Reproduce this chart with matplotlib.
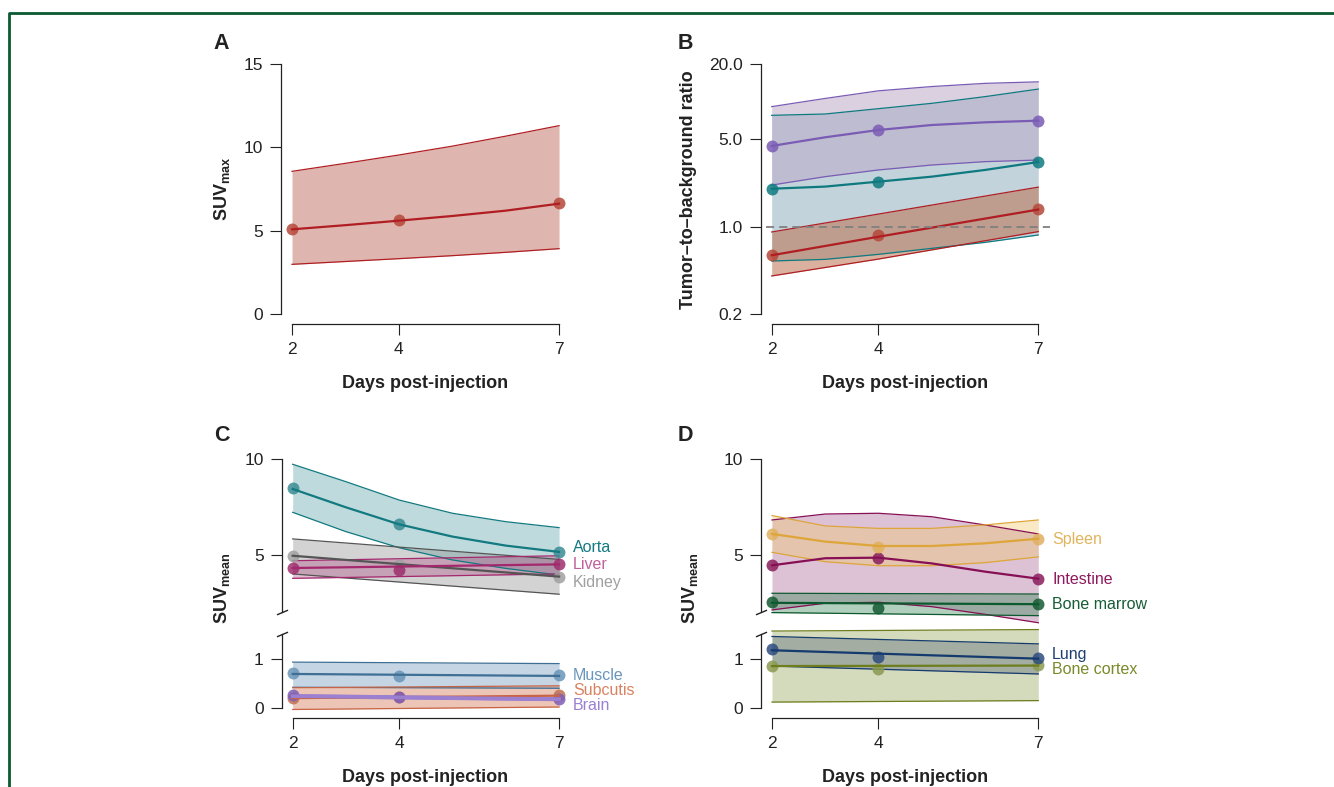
import matplotlib
matplotlib.use('Agg')
import matplotlib.pyplot as plt
from matplotlib.lines import Line2D

plt.rcParams['font.family'] = ['Liberation Sans', 'DejaVu Sans']
plt.rcParams['mathtext.fontset'] = 'custom'
plt.rcParams['mathtext.rm'] = 'Liberation Sans'
plt.rcParams['mathtext.bf'] = 'Liberation Sans:bold'

W, H = 1334, 787

days = [2, 4, 7]
fit_days = [2, 3, 4, 5, 6, 7]
end_days = [2, 7]

# ---- A: tumour SUVmax
a_pts = [5.1, 5.62, 6.68]
a_fit = [5.08, 5.33, 5.6, 5.88, 6.2, 6.62]
a_hi = [8.56, 9.04, 9.54, 10.07, 10.67, 11.3]
a_lo = [2.98, 3.15, 3.32, 3.5, 3.7, 3.92]

# ---- B: tumour-to-background ratios (three backgrounds)
b1_pts = [4.42, 5.93, 7.04]
b1_fit = [4.42, 5.18, 5.93, 6.5, 6.83, 7.04]
b1_hi = [9.12, 10.6, 12.2, 13.2, 14.0, 14.4]
b1_lo = [2.15, 2.51, 2.84, 3.11, 3.31, 3.41]

b2_pts = [2.01, 2.29, 3.29]
b2_fit = [2.01, 2.09, 2.29, 2.51, 2.84, 3.29]
b2_hi = [7.77, 7.96, 8.78, 9.69, 10.96, 12.6]
b2_lo = [0.531, 0.547, 0.60, 0.67, 0.748, 0.857]

b3_pts = [0.593, 0.863, 1.375]
b3_fit = [0.59, 0.83, 1.37]
b3_hi = [0.906, 1.26, 2.07]
b3_lo = [0.403, 0.55, 0.912]

# ---- C: SUVmean, blood pool / organs
aorta_pts = [8.49, 6.60, 5.17]
aorta_fit = [8.45, 7.49, 6.60, 5.96, 5.49, 5.16]
aorta_hi = [9.74, 8.83, 7.87, 7.18, 6.74, 6.43]
aorta_lo = [7.23, 6.22, 5.38, 4.74, 4.30, 3.95]

liver_pts = [4.32, 4.22, 4.51]
liver_fit = [4.32, 4.51]
liver_hi = [4.70, 4.96]
liver_lo = [3.78, 4.01]

kidney_pts = [4.96, 4.48, 3.85]
kidney_fit = [4.96, 3.87]
kidney_hi = [5.84, 4.77]
kidney_lo = [4.01, 2.95]

muscle_pts = [0.70, 0.64, 0.66]
muscle_fit = [0.69, 0.65]
muscle_hi = [0.93, 0.90]
muscle_lo = [0.42, 0.40]

subcutis_pts = [0.20, 0.22, 0.26]
subcutis_fit = [0.20, 0.25]
subcutis_hi = [0.41, 0.45]
subcutis_lo = [-0.03, 0.02]

brain_pts = [0.26, 0.22, 0.18]
brain_fit = [0.24, 0.18]
brain_hi = [0.27, 0.21]
brain_lo = [0.21, 0.15]

# ---- D: SUVmean, other organs
spleen_pts = [6.11, 5.42, 5.85]
spleen_fit = [6.10, 5.70, 5.47, 5.47, 5.61, 5.85]
spleen_hi = [7.06, 6.52, 6.39, 6.39, 6.57, 6.83]
spleen_lo = [5.14, 4.65, 4.44, 4.44, 4.60, 4.90]

intestine_pts = [4.46, 4.86, 3.76]
intestine_fit = [4.46, 4.83, 4.86, 4.56, 4.13, 3.76]
intestine_hi = [6.83, 7.14, 7.18, 7.00, 6.57, 6.10]
intestine_lo = [2.13, 2.48, 2.53, 2.30, 1.90, 1.46]

marrow_pts = [2.54, 2.25, 2.46]
marrow_fit = [2.50, 2.43]
marrow_hi = [3.00, 2.96]
marrow_lo = [1.99, 1.83]

lung_pts = [1.19, 1.04, 1.02]
lung_fit = [1.17, 1.00]
lung_hi = [1.45, 1.30]
lung_lo = [0.85, 0.69]

cortex_pts = [0.86, 0.80, 0.87]
cortex_fit = [0.85, 0.86]
cortex_hi = [1.56, 1.59]
cortex_lo = [0.12, 0.15]


def px_axes(fig, left, top, right, bottom):
    ax = fig.add_axes([left / W, 1 - bottom / H, (right - left) / W, (bottom - top) / H])
    ax.set_facecolor('none')
    for s in ['top', 'right']:
        ax.spines[s].set_visible(False)
    for s in ['left', 'bottom']:
        ax.spines[s].set_linewidth(0.9)
        ax.spines[s].set_color('#222222')
    ax.tick_params(length=8, width=0.8, labelsize=12.5, colors='#222222', pad=5)
    ax.set_xlim(1.794, 7.25)
    return ax


def style_x(ax):
    ax.spines['bottom'].set_position(('outward', 7.2))
    ax.spines['bottom'].set_bounds(2, 7)
    ax.set_xticks(days)
    ax.set_xticklabels(['2', '4', '7'])


def no_x(ax):
    ax.spines['bottom'].set_visible(False)
    ax.set_xticks([])


def series(ax, xf, fit, lo, hi, pts, line, fill, alpha, ptc, lw=1.6):
    ax.fill_between(xf, lo, hi, color=fill, alpha=alpha, lw=0, zorder=1, clip_on=False)
    ax.plot(xf, hi, color=line, lw=0.9, zorder=2, clip_on=False)
    ax.plot(xf, lo, color=line, lw=0.9, zorder=2, clip_on=False)
    ax.plot(days, pts, 'o', color=ptc, ms=8.6, alpha=0.85, mew=0, zorder=3, clip_on=False)
    ax.plot(xf, fit, color=line, lw=lw, zorder=4, clip_on=False)


def brk(ax, y):
    ax.plot([0], [y], transform=ax.transAxes, marker=[(-1, -0.42), (1, 0.42)],
            ms=8, mew=1, color='#222222', clip_on=False, ls='none')


fig = plt.figure(figsize=(W / 100, H / 100), dpi=100)

# ---------------- A
ax = px_axes(fig, 281, 64, 572.4, 314)
ax.set_ylim(0, 15)
ax.set_yticks([0, 5, 10, 15])
ax.spines['left'].set_bounds(0, 15)
style_x(ax)
series(ax, fit_days, a_fit, a_lo, a_hi, a_pts, '#B01E23', '#B04A38', 0.4, '#B5483A')

# ---------------- B
ax = px_axes(fig, 760.7, 64, 1051.6, 314)
ax.set_yscale('log')
ax.set_ylim(0.2, 20)
ax.set_yticks([0.2, 1, 5, 20])
ax.set_yticklabels(['0.2', '1.0', '5.0', '20.0'])
ax.minorticks_off()
ax.spines['left'].set_bounds(0.2, 20)
style_x(ax)
series(ax, fit_days, b2_fit, b2_lo, b2_hi, b2_pts, '#0E7A80', '#37708A', 0.3, '#0E7A80')
series(ax, fit_days, b1_fit, b1_lo, b1_hi, b1_pts, '#7A5CB4', '#BCAAC8', 0.55, '#7A5CB4')
series(ax, days, b3_fit, b3_lo, b3_hi, b3_pts, '#B01E23', '#BC7150', 0.55, '#B5483A')
ax.hlines(1.0, 1.9, 7.22, colors='#808080', lw=1.3, linestyles=(0, (4.5, 2.8)), zorder=5)


# ---------------- C and D (broken y axis)
def broken_pair(left, right):
    top = px_axes(fig, left, 459.3, right, 612.4)
    top.set_ylim(2, 10)
    top.set_yticks([5, 10])
    top.spines['left'].set_bounds(2, 10)
    no_x(top)
    brk(top, 0)
    bot = px_axes(fig, left, 634, right, 708)
    bot.set_ylim(0, 1.5)
    bot.set_yticks([0, 1])
    bot.spines['left'].set_bounds(0, 1.5)
    style_x(bot)
    brk(bot, 1)
    return top, bot


ct, cb = broken_pair(281.7, 572.4)
series(ct, fit_days, aorta_fit, aorta_lo, aorta_hi, aorta_pts, '#127A80', '#1A7A84', 0.28, '#3B8C93')
series(ct, end_days, kidney_fit, kidney_lo, kidney_hi, kidney_pts, '#555555', '#8C8C8C', 0.38, '#A0A0A0')
series(ct, end_days, liver_fit, liver_lo, liver_hi, liver_pts, '#A3286E', '#B04880', 0.35, '#9E2F6E')
series(cb, end_days, muscle_fit, muscle_lo, muscle_hi, muscle_pts, '#3F6F95', '#5A88B0', 0.35, '#6A95B8')
series(cb, end_days, subcutis_fit, subcutis_lo, subcutis_hi, subcutis_pts, '#C86446', '#D8805E', 0.45, '#C07050')
series(cb, end_days, brain_fit, brain_lo, brain_hi, brain_pts, '#9B7FD0', '#9B7FD0', 0.35, '#7E5DB8', lw=2.6)

for a, y, name, col in [(ct, 5.38, 'Aorta', '#127A80'), (ct, 4.49, 'Liver', '#C0609A'),
                        (ct, 3.55, 'Kidney', '#A0A0A0'), (cb, 0.655, 'Muscle', '#6A95BD'),
                        (cb, 0.35, 'Subcutis', '#D98262'), (cb, 0.047, 'Brain', '#9A80D2')]:
    a.text(7.26, y, name, color=col, fontsize=11.5, va='center', ha='left', clip_on=False)

dt, db = broken_pair(761, 1051.6)
series(dt, fit_days, intestine_fit, intestine_lo, intestine_hi, intestine_pts, '#870F55', '#A05088', 0.35, '#8A1C5C')
series(dt, fit_days, spleen_fit, spleen_lo, spleen_hi, spleen_pts, '#DDA53A', '#F0C870', 0.4, '#E0B060')
series(dt, end_days, marrow_fit, marrow_lo, marrow_hi, marrow_pts, '#0E5A30', '#3A8A5A', 0.4, '#145A32')
series(db, end_days, cortex_fit, cortex_lo, cortex_hi, cortex_pts, '#6E7E1E', '#90A050', 0.38, '#8A9A50')
series(db, end_days, lung_fit, lung_lo, lung_hi, lung_pts, '#153A6E', '#4A5A70', 0.35, '#2C4C7E')

for a, y, name, col in [(dt, 5.82, 'Spleen', '#E2B45E'), (dt, 3.73, 'Intestine', '#8F1A5E'),
                        (dt, 2.42, 'Bone marrow', '#175C36'), (db, 1.09, 'Lung', '#1E3F72'),
                        (db, 0.785, 'Bone cortex', '#7A8A2A')]:
    a.text(7.26, y, name, color=col, fontsize=11.5, va='center', ha='left', clip_on=False)

# ---------------- labels
def ftext(x, y, s, **kw):
    fig.text(x / W, 1 - y / H, s, ha='center', va='center', color='#222222', **kw)


for x, y, s in [(221.7, 43.3, 'A'), (685, 43.3, 'B'), (222, 435, 'C'), (685, 435, 'D')]:
    ftext(x, y, s, fontsize=15.5, fontweight='bold')

for x, y in [(425, 384), (905, 384), (425, 778), (905, 778)]:
    ftext(x, y, 'Days post-injection', fontsize=13, fontweight='bold')

ftext(222.5, 189, r'$\mathbf{SUV}_{\mathbf{max}}$', fontsize=13, rotation=90)
ftext(688, 190, 'Tumor–to–background ratio', fontsize=13, fontweight='bold', rotation=90)
ftext(222.5, 588, r'$\mathbf{SUV}_{\mathbf{mean}}$', fontsize=13, rotation=90)
ftext(690.5, 588, r'$\mathbf{SUV}_{\mathbf{mean}}$', fontsize=13, rotation=90)

# journal frame
green = '#0B5A32'
fig.add_artist(Line2D([9 / W, 9 / W, 1.0], [0.0, 1 - 13 / H, 1 - 13 / H],
                      transform=fig.transFigure, color=green, lw=2.0))

fig.savefig('out.png', dpi=100)
